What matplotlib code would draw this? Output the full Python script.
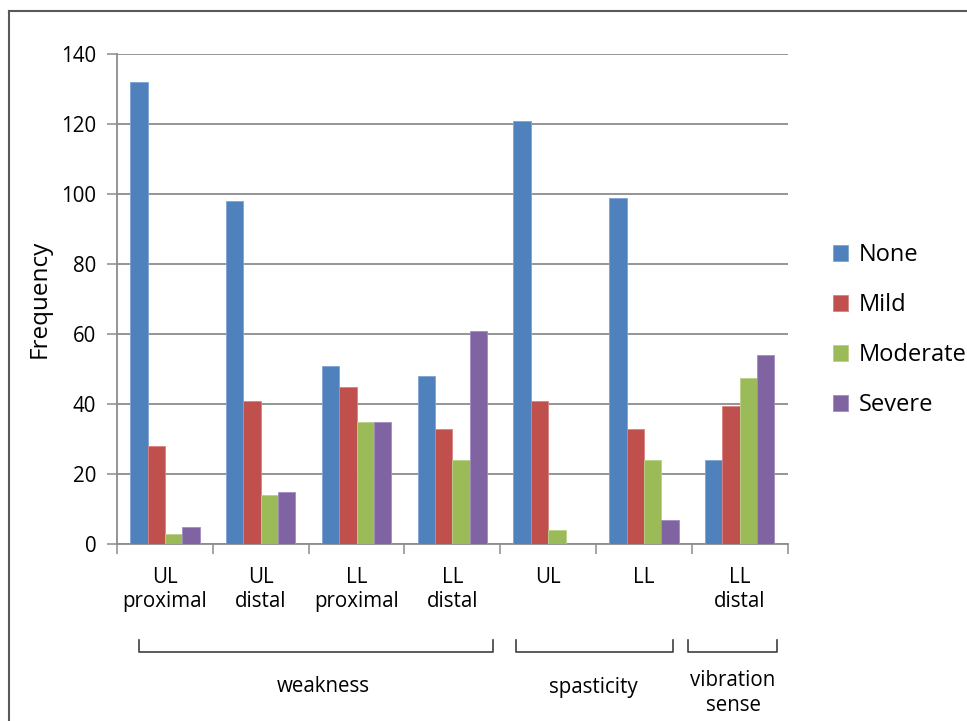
import matplotlib
matplotlib.use("Agg")
import matplotlib.pyplot as plt
import numpy as np
from matplotlib.lines import Line2D
from matplotlib.patches import Patch

plt.rcParams['font.family'] = ['Open Sans', 'DejaVu Sans']

# Categories (symptom location) and severity counts
categories = ["UL\nproximal", "UL\ndistal", "LL\nproximal", "LL\ndistal", "UL", "LL", "LL\ndistal"]
series_names = ["None", "Mild", "Moderate", "Severe"]
none_vals = [132, 98, 51, 48, 121, 99, 24]
mild_vals = [28, 41, 45, 33, 41, 33, 39.4]
moderate_vals = [3, 14, 35, 24, 4, 24, 47.5]
severe_vals = [5, 15, 35, 61, 0, 7, 54]
colors = ["#4F81BD", "#C0504D", "#9BBB59", "#8064A2"]
edge_colors = ["#7FA3D3", "#D98280", "#B9D087", "#A08CC0"]

# Symptom groups spanning the categories: (label, first category, last category)
groups = [("weakness", 0, 3), ("spasticity", 4, 5), ("vibration\nsense", 6, 6)]

yticks = [0, 20, 40, 60, 80, 100, 120, 140]

W, H = 967, 721
fig = plt.figure(figsize=(W / 100, H / 100), dpi=100)
ax = fig.add_axes([117 / W, 1 - 544.3 / H, (787.7 - 117) / W, (544.3 - 54.3) / H])

x = np.arange(len(categories))
n = len(series_names)
bar_w = 0.181
all_vals = [none_vals, mild_vals, moderate_vals, severe_vals]
for i, (name, vals) in enumerate(zip(series_names, all_vals)):
    ax.bar(x + (i - (n - 1) / 2) * bar_w, vals, width=bar_w, color=colors[i],
           edgecolor=edge_colors[i], linewidth=0.6, label=name, zorder=3)

ax.set_xlim(-0.5, len(categories) - 0.5)
ax.set_ylim(0, 140)
ax.set_yticks(yticks)
ax.set_yticklabels([str(t) for t in yticks], fontsize=14.8, color="#000000")
ax.yaxis.grid(True, color="#8C8C8C", linewidth=1.3, zorder=0)
ax.set_axisbelow(True)

ax.set_xticks(x)
ax.set_xticklabels(categories, fontsize=14.8, color="#000000", linespacing=1.22)
ax.set_xticks(np.arange(len(categories) + 1) - 0.5, minor=True)
ax.tick_params(axis="x", which="major", length=0, pad=16)
ax.tick_params(axis="x", which="minor", length=7, width=1.1, color="#8C8C8C", direction="out")
ax.tick_params(axis="y", length=7, width=1.1, color="#8C8C8C", direction="out", pad=8)

for side in ("top", "right"):
    ax.spines[side].set_visible(False)
for side in ("left", "bottom"):
    ax.spines[side].set_color("#8C8C8C")
    ax.spines[side].set_linewidth(1.3)

ax.set_ylabel("Frequency", fontsize=17.5, labelpad=7, color="#000000")

# Group brackets beneath the category labels
trans = ax.get_xaxis_transform()
to_ax_y = lambda py: (544.3 - py) / (544.3 - 54.3)
bracket_extents = [(-0.27, 3.42), (3.66, 5.30), (5.46, 6.39)]
label_centres = [(1.65, 687), (4.47, 687), (5.93, 693)]
y_top = to_ax_y(640)
y_bot = to_ax_y(652)
for (label, a, b), (x0, x1), (cx, cy) in zip(groups, bracket_extents, label_centres):
    ax.plot([x0, x0, x1, x1], [y_top, y_bot, y_bot, y_top], transform=trans,
            color="#404040", linewidth=1.2, clip_on=False)
    ax.text(cx, to_ax_y(cy), label, transform=trans, ha="center", va="center",
            fontsize=14.8, linespacing=1.22, color="#000000")

# Legend
handles = [Patch(facecolor=c, edgecolor=e, linewidth=0.6) for c, e in zip(colors, edge_colors)]
fig.legend(handles, series_names, loc="upper left", bbox_to_anchor=(824 / W, 1 - 234 / H),
           frameon=False, fontsize=17, handlelength=0.62, handleheight=0.62,
           handletextpad=0.45, labelspacing=1.1, borderaxespad=0)

# Outer frame (left and top edges)
fig.add_artist(Line2D([9 / W, 9 / W], [0, 1 - 11 / H], transform=fig.transFigure,
                      color="#595959", linewidth=1.5))
fig.add_artist(Line2D([9 / W, 1], [1 - 11 / H, 1 - 11 / H], transform=fig.transFigure,
                      color="#595959", linewidth=1.5))

fig.savefig("out.png", dpi=100, facecolor="white")
